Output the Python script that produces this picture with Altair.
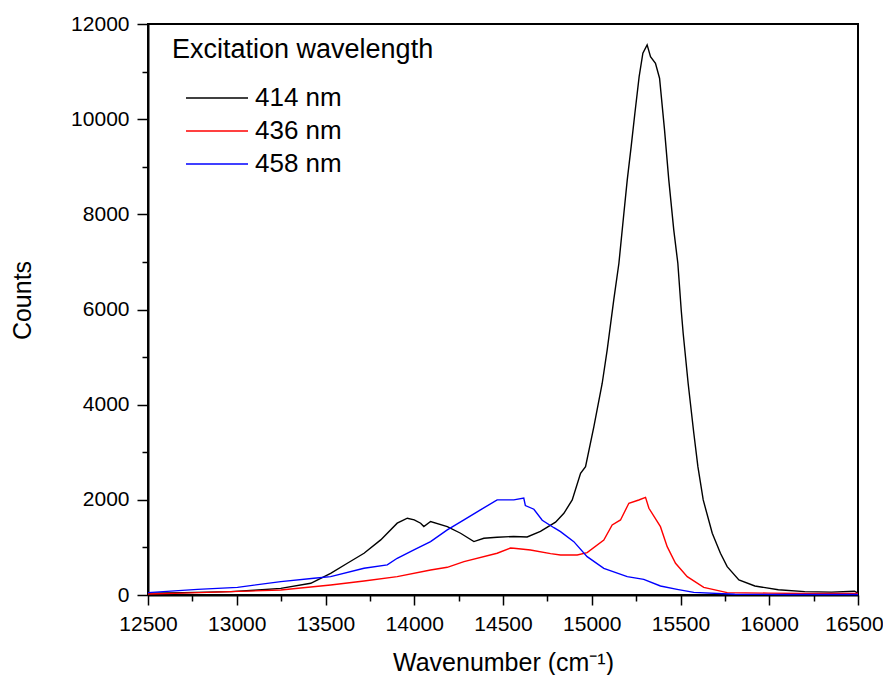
import altair as alt
import pandas as pd

series_names = ["414 nm", "436 nm", "458 nm"]
series_colors = ["#000000", "#ff0000", "#0000ff"]

wn_414 = [12500, 12700, 12966, 13100, 13248, 13417, 13529, 13623, 13717, 13811, 13904, 13961, 14000,
          14036, 14054, 14092, 14186, 14261, 14336, 14392, 14467, 14560, 14636, 14711, 14796, 14843,
          14890, 14937, 14965, 15012, 15059, 15087, 15124, 15153, 15181, 15200, 15222, 15243, 15267,
          15288, 15312, 15331, 15359, 15382, 15410, 15434, 15462, 15485, 15504, 15515, 15543, 15575,
          15598, 15628, 15679, 15725, 15763, 15829, 15919, 16051, 16200, 16350, 16480, 16500]
counts_414 = [40, 50, 70, 100, 140, 246, 456, 667, 877, 1158, 1509, 1614, 1580,
              1509, 1439, 1544, 1439, 1298, 1123, 1193, 1214, 1230, 1220, 1336, 1531, 1717,
              1997, 2558, 2697, 3538, 4450, 5150, 6201, 6972, 8023, 8723, 9424, 10125, 10895,
              11386, 11561, 11315, 11176, 10861, 9774, 8723, 7672, 6972, 5991, 5501, 4450, 3399,
              2697, 1997, 1297, 876, 595, 315, 190, 109, 70, 60, 80, 40]

wn_436 = [12500, 12700, 12966, 13248, 13529, 13717, 13904, 14092, 14186, 14280, 14467, 14542, 14561,
          14655, 14768, 14824, 14918, 14974, 15068, 15115, 15162, 15209, 15265, 15303, 15322, 15387,
          15425, 15472, 15538, 15631, 15763, 15994, 16200, 16500]
counts_436 = [20, 40, 70, 105, 211, 295, 386, 526, 582, 702, 877, 987, 982,
              947, 870, 841, 841, 890, 1156, 1471, 1577, 1927, 1997, 2053, 1822, 1436,
              1016, 666, 385, 161, 49, 39, 30, 30]

wn_458 = [12500, 12779, 13004, 13248, 13435, 13529, 13717, 13848, 13904, 13998, 14092, 14186, 14280,
          14373, 14467, 14561, 14617, 14626, 14674, 14721, 14787, 14824, 14899, 14974, 15068, 15200,
          15293, 15387, 15481, 15575, 15806, 16100, 16500]
counts_458 = [50, 119, 161, 281, 351, 386, 561, 632, 772, 947, 1123, 1368, 1579,
              1789, 2000, 2000, 2036, 1880, 1803, 1570, 1414, 1331, 1121, 806, 561, 385,
              329, 189, 119, 56, 16, 10, 10]

x_ticks = list(range(12500, 16501, 250))
y_ticks = list(range(0, 12001, 1000))

rows = []
for name, xs, ys in zip(series_names, [wn_414, wn_436, wn_458], [counts_414, counts_436, counts_458]):
    for i, (x, y) in enumerate(zip(xs, ys)):
        rows.append({"wn": x, "counts": y, "series": name, "order": i})
df = pd.DataFrame(rows)

FONT = "Liberation Sans"

x_axis = alt.Axis(
    values=x_ticks, format="d",
    labelExpr="datum.value % 500 === 0 ? datum.label : ''",
    tickSize={"condition": {"test": "datum.value % 500 === 0", "value": 10}, "value": 6},
    labelOffset={"condition": {"test": "datum.value === 16500", "value": -4}, "value": 0},
    labelFontSize=21, labelPadding=8, labelFlush=False, labelOverlap=False,
    title="Wavenumber (cm\u207b\u00b9)", titleFontSize=25, titleFontWeight="normal",
    titleX=355, titleY=75, titleBaseline="alphabetic", titleAlign="center",
)
y_axis = alt.Axis(
    values=y_ticks, format="d",
    labelExpr="datum.value % 2000 === 0 ? datum.label : ''",
    tickSize={"condition": {"test": "datum.value % 2000 === 0", "value": 11}, "value": 6},
    labelFontSize=21, labelPadding=8, labelFlush=False, labelOverlap=False,
    title="Counts", titleFontSize=25, titleFontWeight="normal",
    titleX=-118, titleY=276, titleAngle=270, titleBaseline="alphabetic", titleAlign="center",
)

legend = alt.Legend(
    title="Excitation wavelength", orient="none", legendX=24, legendY=13,
    symbolType="M-1,0H5.2", symbolSize=400, symbolOffset=11, symbolStrokeWidth=1.5,
    labelOffset=46, labelFontSize=26, titleFontSize=27, titleFontWeight="normal",
    rowPadding=7, titlePadding=21, padding=0, labelColor="black", titleColor="black",
    labelFont=FONT, titleFont=FONT, titleLimit=600, labelLimit=300,
)

chart = alt.Chart(df).mark_line(strokeWidth=1.4).encode(
    x=alt.X("wn:Q", scale=alt.Scale(domain=[12500, 16500], nice=False, zero=False), axis=x_axis),
    y=alt.Y("counts:Q", scale=alt.Scale(domain=[0, 12000], nice=False), axis=y_axis),
    color=alt.Color("series:N", scale=alt.Scale(domain=series_names, range=series_colors), legend=legend),
    order="order:Q",
).properties(
    width=710, height=571,
    autosize=alt.AutoSizeParams(type="none"),
    padding={"left": 140, "top": 16, "right": 25, "bottom": 80},
).configure_view(
    stroke="black", strokeWidth=2,
).configure_axis(
    domainColor="black", domainWidth=2, tickColor="black", tickWidth=1.5,
    labelColor="black", titleColor="black", grid=False, labelFont=FONT, titleFont=FONT,
)

chart.save("out.html", embed_options={"renderer": "svg", "actions": False})
